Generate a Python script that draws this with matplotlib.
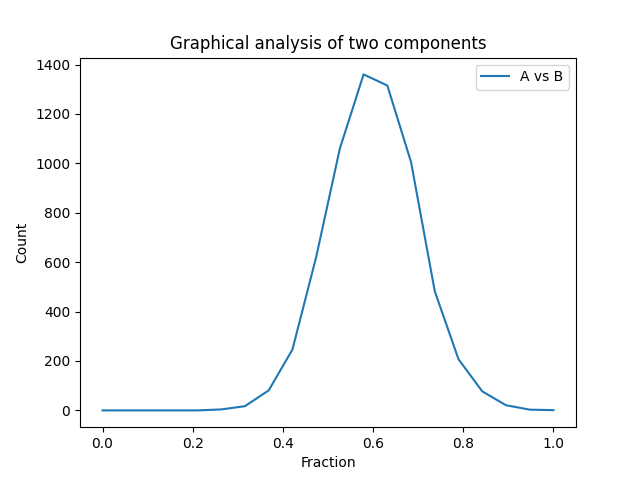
import numpy as np
import matplotlib
matplotlib.use("Agg")
import matplotlib.pyplot as plt

# fraction of A, 20 evenly spaced samples
fraction = np.linspace(0, 1, 20)
count = [0, 0, 0, 0, 0, 4, 17, 81, 246, 620, 1060, 1360, 1315, 1005,
         482, 207, 77, 21, 3, 1]

fig, ax = plt.subplots(figsize=(6.4, 4.8), dpi=100)
ax.plot(fraction, count, label="A vs B")
ax.set_title("Graphical analysis of two components")
ax.set_xlabel("Fraction")
ax.set_ylabel("Count")
ax.legend()

plt.savefig("out.png")
